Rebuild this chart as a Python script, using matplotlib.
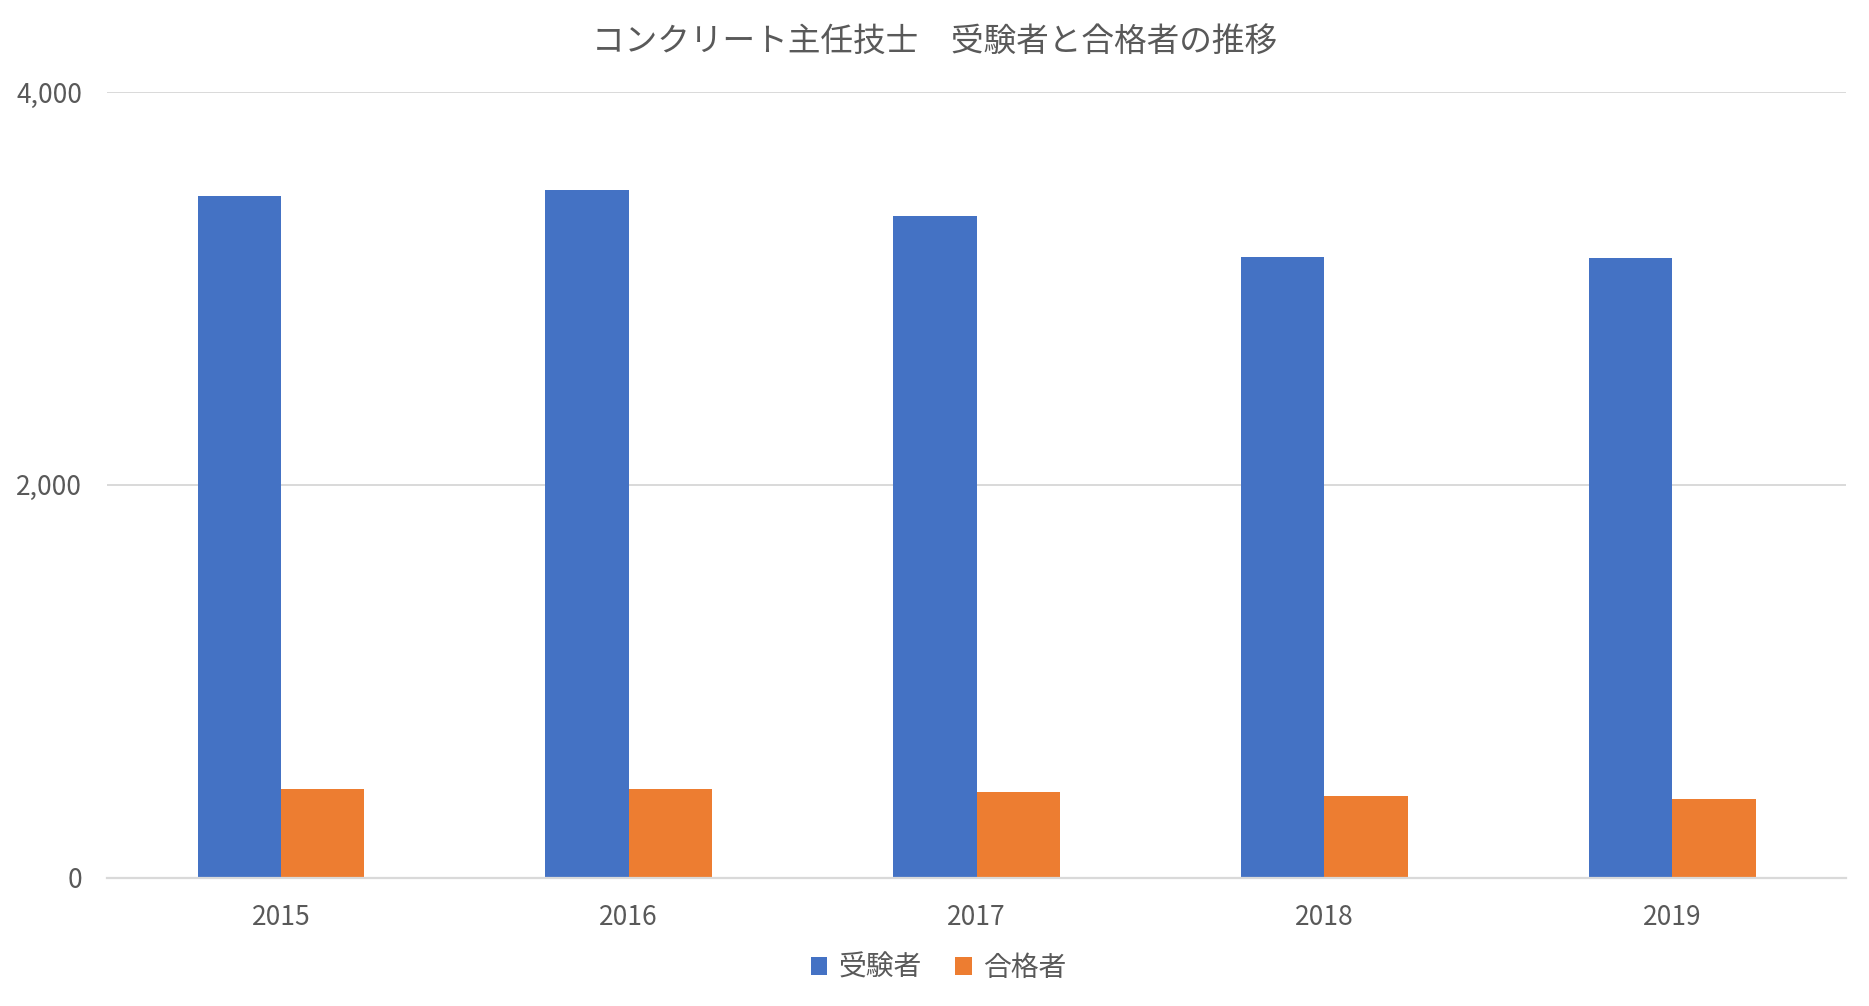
import matplotlib
matplotlib.use("Agg")
import matplotlib.pyplot as plt
import numpy as np

# 日本語表示用のフォント
plt.rcParams["font.family"] = ["Noto Sans CJK JP", "DejaVu Sans"]

years = ["2015", "2016", "2017", "2018", "2019"]
examinees = [3472, 3502, 3370, 3161, 3156]   # 受験者
passed = [451, 451, 436, 415, 400]           # 合格者

blue = "#4472C4"
orange = "#ED7D31"
text_color = "#595959"
grid_color = "#D9D9D9"

fig = plt.figure(figsize=(18.69, 10.06), dpi=100)
ax = fig.add_axes([0.0573, 0.1277, 0.9304, 0.7806])

x = np.arange(len(years))
w = 0.24
ax.bar(x - w / 2, examinees, width=w, color=blue, label="受験者", zorder=3)
ax.bar(x + w / 2, passed, width=w, color=orange, label="合格者", zorder=3)

ax.set_xlim(-0.5, len(years) - 0.5)
ax.set_ylim(0, 4000)
ax.set_yticks([0, 2000, 4000])
ax.set_yticklabels(["0", "2,000", "4,000"])
ax.set_xticks(x)
ax.set_xticklabels(years)

ax.grid(axis="y", color=grid_color, linewidth=1.4, zorder=0)
for s in ["top", "right", "left"]:
    ax.spines[s].set_visible(False)
ax.spines["bottom"].set_color(grid_color)
ax.spines["bottom"].set_linewidth(1.6)
ax.spines["bottom"].set_zorder(4)

ax.tick_params(axis="both", length=0, labelsize=19, labelcolor=text_color)
ax.tick_params(axis="y", pad=18)
ax.tick_params(axis="x", pad=19)

fig.suptitle("コンクリート主任技士　受験者と合格者の推移", x=0.5, y=0.958,
             fontsize=23.5, color=text_color, va="center")

leg = fig.legend(loc="center", bbox_to_anchor=(0.502, 0.038), ncol=2, frameon=False,
                 fontsize=20, handlelength=0.6, handleheight=0.6, handletextpad=0.4,
                 columnspacing=1.2)
for t in leg.get_texts():
    t.set_color(text_color)

fig.savefig("out.png", dpi=100)
